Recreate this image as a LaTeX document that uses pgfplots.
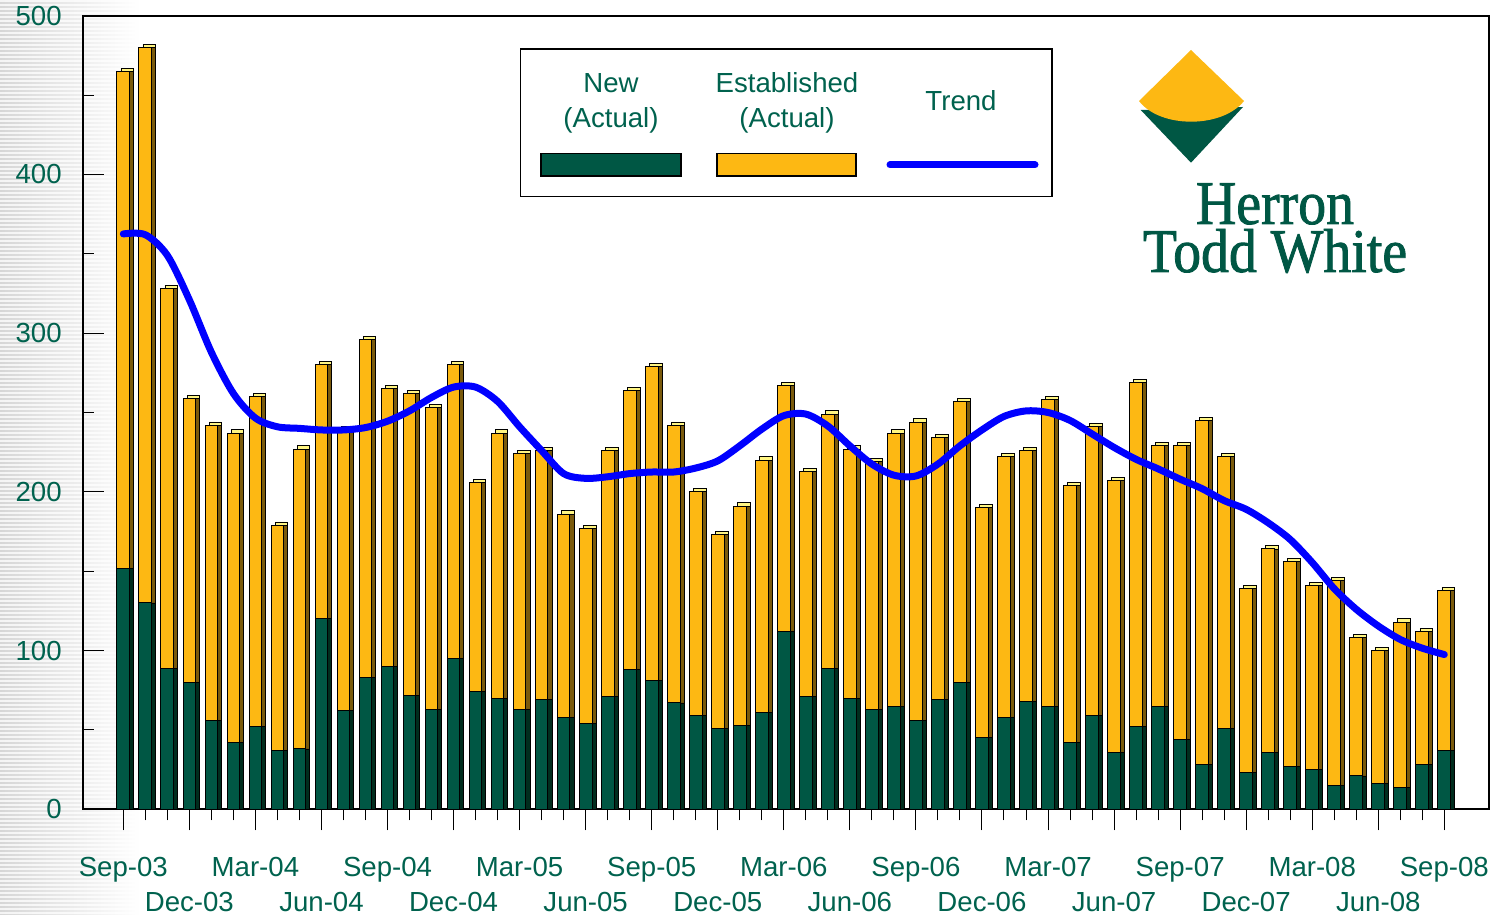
\documentclass[border=0pt]{standalone}
\usepackage{fontspec}
\setmainfont{Liberation Sans}
\newfontfamily\logofont[FakeStretch=0.9,FakeBold=1.3]{Liberation Serif}
\usepackage{pgfplots}
\usepackage{pgfplotstable}
\pgfplotsset{compat=1.18}
\definecolor{newgreen}{RGB}{0,87,68}
\definecolor{estyellow}{RGB}{253,184,19}
\definecolor{sideyellow}{RGB}{122,90,12}
\definecolor{sidegreen}{RGB}{0,45,30}
\definecolor{topyellow}{RGB}{255,245,130}
\definecolor{textgreen}{RGB}{0,98,78}
\definecolor{trendblue}{RGB}{0,0,255}

\pgfplotstableread{
i new est trend
0 152 313 362.5
1 130 350 362
2 89 239 349
3 80 179 321
4 56 186 288
5 42 195 262
6 52 208 246.5
7 37 142 241
8 38 189 240
9 120 160 239
10 62 177 239
11 83 213 240.5
12 90 175 244.5
13 72 190 251
14 63 190 259.5
15 95 185 266
16 74 132 266
17 70 167 257
18 63 161 241
19 69 157 226
20 58 128 211.5
21 54 123 208.5
22 71 155 209.5
23 88 176 211.5
24 81 198 212.5
25 67 175 212.5
26 59 141 215
27 51 122 219.5
28 53 138 229
29 61 159 239.5
30 112 155 248
31 71 142 249
32 89 160 241.5
33 70 157 229
34 63 156 217.5
35 65 172 210.5
36 56 188 210
37 69 165 217.5
38 80 177 229
39 45 145 239
40 58 164 247.5
41 68 158 251
42 65 193 250
43 42 162 245
44 59 182 236.5
45 36 171 228
46 52 217 220.5
47 65 164 214.5
48 44 185 208
49 28 217 202
50 51 171 194.5
51 23 116 189
52 36 128 180.5
53 27 129 170
54 25 116 155.5
55 15 129 139
56 21 87 126
57 16 84 115.5
58 14 104 107
59 28 84 101.5
60 37 101 97.5
}\housing

\begin{document}
\begin{tikzpicture}
\useasboundingbox (0,0) rectangle (747pt,457.5pt);
% background stripes on the left
\begin{scope}[x=0.5pt,y=-0.5pt,shift={(0,457.5pt)}]
  \shade[left color=black!16, right color=white] (0,0) rectangle (140,915);
  \foreach \yy in {0,4,...,916} {
    \fill[white, opacity=0.75] (0,\yy) rectangle (140,\yy+2);
  }
\end{scope}

\begin{axis}[
  at={(41.35pt,52.85pt)}, anchor=south west,
  scale only axis, width=703.15pt, height=396.8pt,
  xmin=-1.844, xmax=62.03, ymin=0, ymax=500,
  axis line style={black, line width=0.9pt},
  xtick={0,6,...,60},
  xticklabels={Sep-03,Mar-04,Sep-04,Mar-05,Sep-05,Mar-06,Sep-06,Mar-07,Sep-07,Mar-08,Sep-08},
  extra x ticks={3,9,...,57},
  extra x tick labels={Dec-03,Jun-04,Dec-04,Jun-05,Dec-05,Jun-06,Dec-06,Jun-07,Dec-07,Jun-08},
  extra x tick style={xticklabel style={yshift=-17.35pt}},
  minor x tick num=5,
  ytick={0,100,...,500},
  minor y tick num=1,
  xtick pos=bottom, ytick pos=left,
  xtick align=outside, ytick align=inside,
  major tick length=10.5pt, minor tick length=5.5pt,
  every tick/.style={black, line width=0.5pt},
  tick label style={font=\fontsize{13.8}{16}\selectfont, text=textgreen},
  xticklabel style={yshift=-10pt},
  yticklabel style={xshift=-7pt},
  /pgf/number format/assume math mode=true,
  clip=false,
]
% top faces (offset back layer)
\addplot[ybar, bar width=6.35pt, bar shift=2pt, yshift=1.6pt, fill=topyellow, draw=black, line width=0.45pt]
  table[x=i, y expr=\thisrow{new}+\thisrow{est}] {\housing};
% side faces
\addplot[ybar, bar width=6.35pt, bar shift=2pt, fill=sideyellow, draw=black, line width=0.45pt]
  table[x=i, y expr=\thisrow{new}+\thisrow{est}] {\housing};
\addplot[ybar, bar width=6.35pt, bar shift=2pt, fill=sidegreen, draw=black, line width=0.45pt]
  table[x=i, y=new] {\housing};
% front faces
\addplot[ybar, bar width=6.35pt, bar shift=0pt, fill=estyellow, draw=black, line width=0.5pt]
  table[x=i, y expr=\thisrow{new}+\thisrow{est}] {\housing};
\addplot[ybar, bar width=6.35pt, bar shift=0pt, fill=newgreen, draw=black, line width=0.5pt]
  table[x=i, y=new] {\housing};
% trend
\addplot[trendblue, line width=3.5pt, smooth, line cap=round, line join=round, mark=none]
  table[x=i, y=trend] {\housing};
\end{axis}

\begin{scope}[x=0.5pt,y=-0.5pt,shift={(0,457.5pt)}]
  % legend
  \draw[black, line width=0.75pt, fill=white] (520.7,49) rectangle (1052,196.7);
  \node[text=textgreen, font=\fontsize{13.8}{16}\selectfont, inner sep=0] at (611,83) {New};
  \node[text=textgreen, font=\fontsize{13.8}{16}\selectfont, inner sep=0] at (611,120) {(Actual)};
  \node[text=textgreen, font=\fontsize{13.8}{16}\selectfont, inner sep=0] at (787,83) {Established};
  \node[text=textgreen, font=\fontsize{13.8}{16}\selectfont, inner sep=0] at (787,120) {(Actual)};
  \node[text=textgreen, font=\fontsize{13.8}{16}\selectfont, inner sep=0] at (961,101) {Trend};
  \draw[black, line width=0.6pt, fill=newgreen] (541,153.7) rectangle (681,176);
  \draw[black, line width=0.6pt, fill=estyellow] (717,153.7) rectangle (856,176);
  \draw[trendblue, line width=3.5pt, line cap=round] (890,165) -- (1035,165);
  % logo
  \fill[newgreen] (1140.7,110) -- (1191,162.7) -- (1243,107) -- cycle;
  \fill[estyellow] (1191,50) -- (1244,101) .. controls (1222,128.6) and (1160,128.6) .. (1139,101) -- cycle;
  \node[text=newgreen, font=\logofont\fontsize{31}{24}\selectfont, inner sep=0, anchor=base, align=center] at (1275,272) {Herron\\Todd White};
\end{scope}
\end{tikzpicture}
\end{document}
